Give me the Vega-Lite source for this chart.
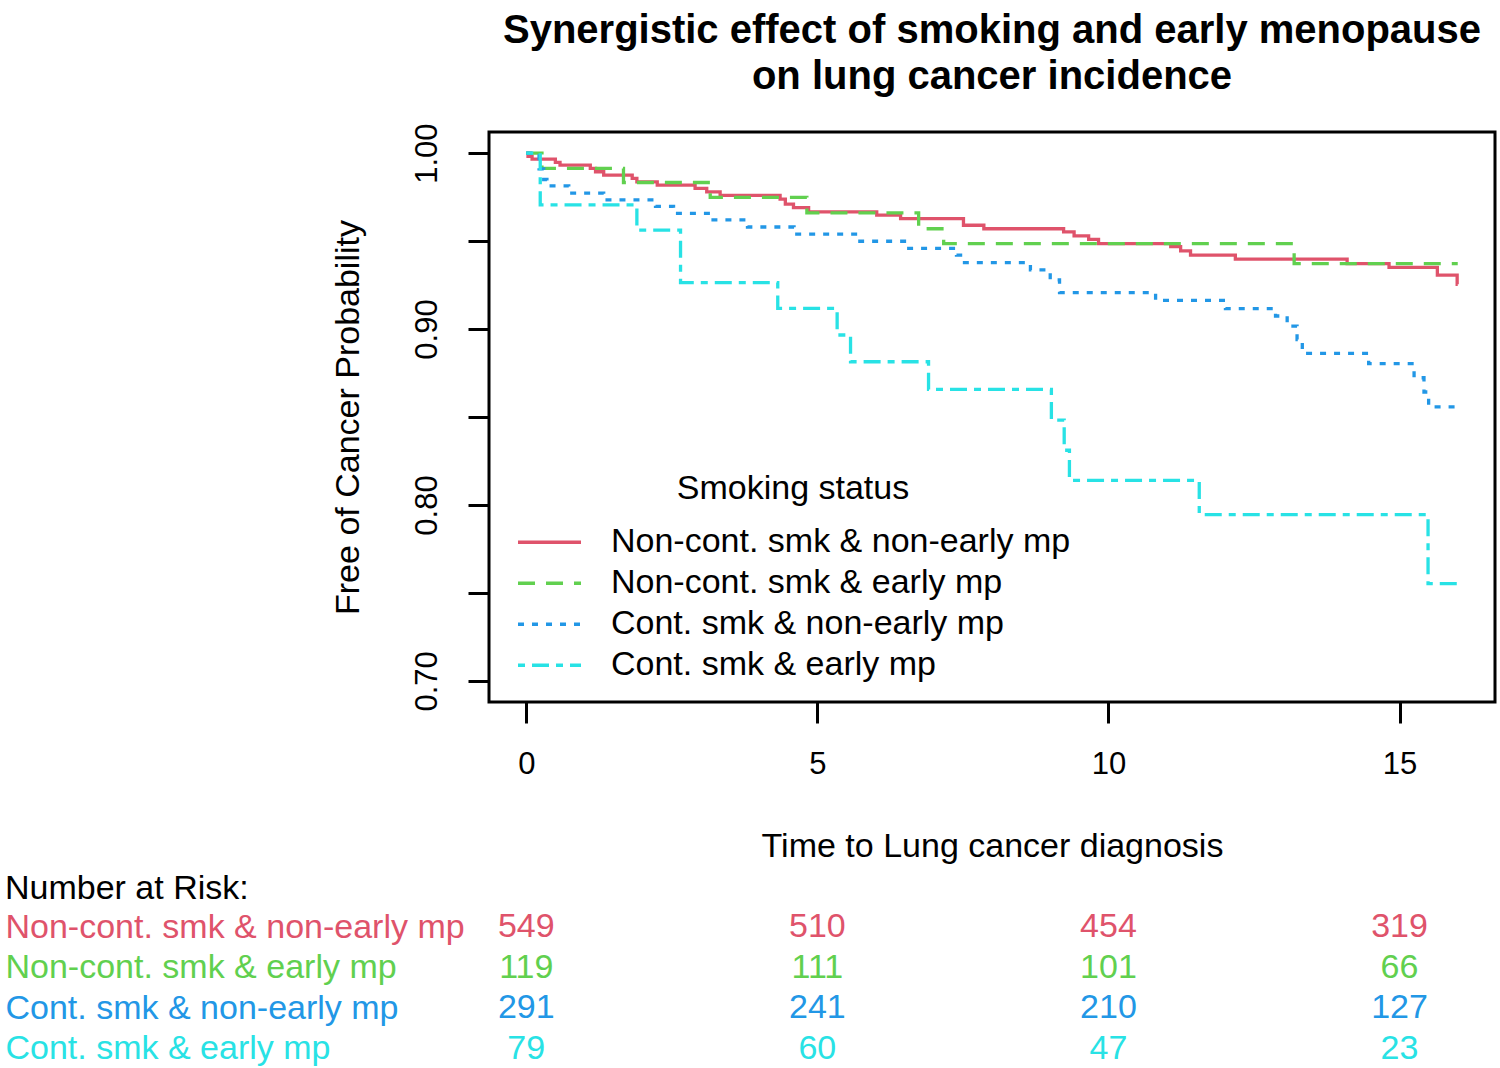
{
  "$schema": "https://vega.github.io/schema/vega-lite/v6.json",
  "autosize": {"type": "pad"},
  "padding": {"left": 5, "top": 9, "right": 0, "bottom": 0},
  "background": "white",
  "config": {
    "font": "Liberation Sans",
    "view": {"stroke": null},
    "axis": {
      "grid": false,
      "domain": false,
      "labelColor": "black",
      "titleColor": "black",
      "tickColor": "black",
      "labelFontSize": 31,
      "titleFontSize": 34,
      "titleFontWeight": "normal",
      "tickSize": 21,
      "tickWidth": 3
    },
    "title": {"color": "black"}
  },
  "datasets": {
    "km": [
      {"group": "Non-cont. smk & non-early mp", "time": 0, "surv": 1},
      {"group": "Non-cont. smk & non-early mp", "time": 0.03, "surv": 0.9982},
      {"group": "Non-cont. smk & non-early mp", "time": 0.1, "surv": 0.9966},
      {"group": "Non-cont. smk & non-early mp", "time": 0.5, "surv": 0.9947},
      {"group": "Non-cont. smk & non-early mp", "time": 0.58, "surv": 0.9932},
      {"group": "Non-cont. smk & non-early mp", "time": 1.1, "surv": 0.9913},
      {"group": "Non-cont. smk & non-early mp", "time": 1.19, "surv": 0.9894},
      {"group": "Non-cont. smk & non-early mp", "time": 1.33, "surv": 0.9875},
      {"group": "Non-cont. smk & non-early mp", "time": 1.82, "surv": 0.9856},
      {"group": "Non-cont. smk & non-early mp", "time": 1.9, "surv": 0.9837},
      {"group": "Non-cont. smk & non-early mp", "time": 2.25, "surv": 0.9818},
      {"group": "Non-cont. smk & non-early mp", "time": 2.9, "surv": 0.98},
      {"group": "Non-cont. smk & non-early mp", "time": 3.1, "surv": 0.978},
      {"group": "Non-cont. smk & non-early mp", "time": 3.33, "surv": 0.976},
      {"group": "Non-cont. smk & non-early mp", "time": 4.36, "surv": 0.9738},
      {"group": "Non-cont. smk & non-early mp", "time": 4.45, "surv": 0.971},
      {"group": "Non-cont. smk & non-early mp", "time": 4.59, "surv": 0.969},
      {"group": "Non-cont. smk & non-early mp", "time": 4.85, "surv": 0.9666},
      {"group": "Non-cont. smk & non-early mp", "time": 6.02, "surv": 0.9647},
      {"group": "Non-cont. smk & non-early mp", "time": 6.43, "surv": 0.9628},
      {"group": "Non-cont. smk & non-early mp", "time": 7.51, "surv": 0.959},
      {"group": "Non-cont. smk & non-early mp", "time": 7.86, "surv": 0.957},
      {"group": "Non-cont. smk & non-early mp", "time": 9.23, "surv": 0.9552},
      {"group": "Non-cont. smk & non-early mp", "time": 9.41, "surv": 0.9529},
      {"group": "Non-cont. smk & non-early mp", "time": 9.66, "surv": 0.951},
      {"group": "Non-cont. smk & non-early mp", "time": 9.83, "surv": 0.9486},
      {"group": "Non-cont. smk & non-early mp", "time": 11.07, "surv": 0.9469},
      {"group": "Non-cont. smk & non-early mp", "time": 11.24, "surv": 0.9444},
      {"group": "Non-cont. smk & non-early mp", "time": 11.41, "surv": 0.942},
      {"group": "Non-cont. smk & non-early mp", "time": 12.18, "surv": 0.9397},
      {"group": "Non-cont. smk & non-early mp", "time": 14.1, "surv": 0.9372},
      {"group": "Non-cont. smk & non-early mp", "time": 14.82, "surv": 0.935},
      {"group": "Non-cont. smk & non-early mp", "time": 15.65, "surv": 0.9307},
      {"group": "Non-cont. smk & non-early mp", "time": 15.99, "surv": 0.9254},
      {"group": "Non-cont. smk & non-early mp", "time": 16, "surv": 0.9254},
      {"group": "Non-cont. smk & early mp", "time": 0, "surv": 1},
      {"group": "Non-cont. smk & early mp", "time": 0.27, "surv": 0.9913},
      {"group": "Non-cont. smk & early mp", "time": 1.67, "surv": 0.9833},
      {"group": "Non-cont. smk & early mp", "time": 3.16, "surv": 0.9748},
      {"group": "Non-cont. smk & early mp", "time": 4.82, "surv": 0.966},
      {"group": "Non-cont. smk & early mp", "time": 6.74, "surv": 0.957},
      {"group": "Non-cont. smk & early mp", "time": 7.17, "surv": 0.9486},
      {"group": "Non-cont. smk & early mp", "time": 13.19, "surv": 0.9372},
      {"group": "Non-cont. smk & early mp", "time": 16, "surv": 0.9372},
      {"group": "Cont. smk & non-early mp", "time": 0, "surv": 1},
      {"group": "Cont. smk & non-early mp", "time": 0.22, "surv": 0.991},
      {"group": "Cont. smk & non-early mp", "time": 0.3, "surv": 0.985},
      {"group": "Cont. smk & non-early mp", "time": 0.355, "surv": 0.9814},
      {"group": "Cont. smk & non-early mp", "time": 0.73, "surv": 0.9772},
      {"group": "Cont. smk & non-early mp", "time": 1.33, "surv": 0.9734},
      {"group": "Cont. smk & non-early mp", "time": 2.22, "surv": 0.9697},
      {"group": "Cont. smk & non-early mp", "time": 2.53, "surv": 0.9657},
      {"group": "Cont. smk & non-early mp", "time": 3.16, "surv": 0.962},
      {"group": "Cont. smk & non-early mp", "time": 3.8, "surv": 0.958},
      {"group": "Cont. smk & non-early mp", "time": 4.6, "surv": 0.9539},
      {"group": "Cont. smk & non-early mp", "time": 5.73, "surv": 0.9499},
      {"group": "Cont. smk & non-early mp", "time": 6.54, "surv": 0.9459},
      {"group": "Cont. smk & non-early mp", "time": 7.39, "surv": 0.942},
      {"group": "Cont. smk & non-early mp", "time": 7.49, "surv": 0.9378},
      {"group": "Cont. smk & non-early mp", "time": 8.66, "surv": 0.9336},
      {"group": "Cont. smk & non-early mp", "time": 9.0, "surv": 0.928},
      {"group": "Cont. smk & non-early mp", "time": 9.16, "surv": 0.9207},
      {"group": "Cont. smk & non-early mp", "time": 10.81, "surv": 0.9163},
      {"group": "Cont. smk & non-early mp", "time": 12.01, "surv": 0.9116},
      {"group": "Cont. smk & non-early mp", "time": 12.87, "surv": 0.9074},
      {"group": "Cont. smk & non-early mp", "time": 13.07, "surv": 0.9017},
      {"group": "Cont. smk & non-early mp", "time": 13.24, "surv": 0.894},
      {"group": "Cont. smk & non-early mp", "time": 13.33, "surv": 0.8862},
      {"group": "Cont. smk & non-early mp", "time": 14.47, "surv": 0.8803},
      {"group": "Cont. smk & non-early mp", "time": 15.25, "surv": 0.8723},
      {"group": "Cont. smk & non-early mp", "time": 15.42, "surv": 0.8642},
      {"group": "Cont. smk & non-early mp", "time": 15.5, "surv": 0.8558},
      {"group": "Cont. smk & non-early mp", "time": 16, "surv": 0.8558},
      {"group": "Cont. smk & early mp", "time": 0, "surv": 1},
      {"group": "Cont. smk & early mp", "time": 0.24, "surv": 0.9706},
      {"group": "Cont. smk & early mp", "time": 1.9, "surv": 0.9562},
      {"group": "Cont. smk & early mp", "time": 2.65, "surv": 0.9264},
      {"group": "Cont. smk & early mp", "time": 4.32, "surv": 0.9118},
      {"group": "Cont. smk & early mp", "time": 5.34, "surv": 0.8966},
      {"group": "Cont. smk & early mp", "time": 5.57, "surv": 0.8814},
      {"group": "Cont. smk & early mp", "time": 6.91, "surv": 0.8657},
      {"group": "Cont. smk & early mp", "time": 9.02, "surv": 0.8482},
      {"group": "Cont. smk & early mp", "time": 9.24, "surv": 0.8311},
      {"group": "Cont. smk & early mp", "time": 9.33, "surv": 0.814},
      {"group": "Cont. smk & early mp", "time": 11.56, "surv": 0.7945},
      {"group": "Cont. smk & early mp", "time": 15.49, "surv": 0.7553},
      {"group": "Cont. smk & early mp", "time": 16, "surv": 0.7553}
    ],
    "risk": [
      {"group": "Non-cont. smk & non-early mp", "time": 0, "n": 549},
      {"group": "Non-cont. smk & non-early mp", "time": 5, "n": 510},
      {"group": "Non-cont. smk & non-early mp", "time": 10, "n": 454},
      {"group": "Non-cont. smk & non-early mp", "time": 15, "n": 319},
      {"group": "Non-cont. smk & early mp", "time": 0, "n": 119},
      {"group": "Non-cont. smk & early mp", "time": 5, "n": 111},
      {"group": "Non-cont. smk & early mp", "time": 10, "n": 101},
      {"group": "Non-cont. smk & early mp", "time": 15, "n": 66},
      {"group": "Cont. smk & non-early mp", "time": 0, "n": 291},
      {"group": "Cont. smk & non-early mp", "time": 5, "n": 241},
      {"group": "Cont. smk & non-early mp", "time": 10, "n": 210},
      {"group": "Cont. smk & non-early mp", "time": 15, "n": 127},
      {"group": "Cont. smk & early mp", "time": 0, "n": 79},
      {"group": "Cont. smk & early mp", "time": 5, "n": 60},
      {"group": "Cont. smk & early mp", "time": 10, "n": 47},
      {"group": "Cont. smk & early mp", "time": 15, "n": 23}
    ]
  },
  "resolve": {"scale": {"color": "independent", "strokeDash": "independent"}},
  "spacing": 7,
  "vconcat": [
    {
      "width": 1006,
      "height": 570,
      "title": {
        "text": ["Synergistic effect of smoking and early menopause", "on lung cancer incidence"],
        "fontSize": 40,
        "fontWeight": "bold",
        "lineHeight": 46,
        "anchor": "middle",
        "offset": 26
      },
      "view": {"stroke": "black", "strokeWidth": 3},
      "data": {"name": "km"},
      "mark": {"type": "line", "interpolate": "step-after", "strokeWidth": 3.3},
      "encoding": {
        "x": {
          "field": "time",
          "type": "quantitative",
          "scale": {"domain": [-0.64, 16.64], "nice": false, "zero": false},
          "axis": {
            "title": "Time to Lung cancer diagnosis",
            "values": [0, 5, 10, 15],
            "labelPadding": 26,
            "titlePadding": 50
          }
        },
        "y": {
          "field": "surv",
          "type": "quantitative",
          "scale": {"domain": [0.688, 1.012], "nice": false, "zero": false},
          "axis": {
            "title": "Free of Cancer Probability",
            "values": [0.7, 0.75, 0.8, 0.85, 0.9, 0.95, 1.0],
            "labelExpr": "round(datum.value * 100) % 10 == 0 ? format(datum.value, '.2f') : ''",
            "labelAngle": 270,
            "labelAlign": "center",
            "labelBaseline": "bottom",
            "labelPadding": 25,
            "titlePadding": 46
          }
        },
        "color": {
          "field": "group",
          "type": "nominal",
          "scale": {
            "domain": ["Non-cont. smk & non-early mp", "Non-cont. smk & early mp", "Cont. smk & non-early mp", "Cont. smk & early mp"],
            "range": ["#DF536B", "#61D04F", "#2297E6", "#28E2E5"]
          },
          "legend": {
            "title": "Smoking status",
            "orient": "none",
            "legendX": 27,
            "legendY": 340,
            "padding": 0,
            "titleFontSize": 34,
            "titleFontWeight": "normal",
            "titleColor": "black",
            "titleAnchor": "middle",
            "titleLimit": 1000,
            "titlePadding": 16,
            "labelFontSize": 34,
            "labelColor": "black",
            "labelLimit": 0,
            "labelOffset": 28,
            "symbolType": "stroke",
            "symbolSize": 3969,
            "symbolStrokeWidth": 3.3,
            "clipHeight": 40.5,
            "rowPadding": 0
          }
        },
        "strokeDash": {
          "field": "group",
          "type": "nominal",
          "scale": {
            "domain": ["Non-cont. smk & non-early mp", "Non-cont. smk & early mp", "Cont. smk & non-early mp", "Cont. smk & early mp"],
            "range": [[1, 0], [17, 11], [6, 8], [7, 7, 17, 7]]
          },
          "legend": {
            "title": "Smoking status",
            "orient": "none",
            "legendX": 27,
            "legendY": 340,
            "padding": 0,
            "titleFontSize": 34,
            "titleFontWeight": "normal",
            "titleColor": "black",
            "titleAnchor": "middle",
            "titleLimit": 1000,
            "titlePadding": 16,
            "labelFontSize": 34,
            "labelColor": "black",
            "labelLimit": 0,
            "labelOffset": 28,
            "symbolType": "stroke",
            "symbolSize": 3969,
            "symbolStrokeWidth": 3.3,
            "clipHeight": 40.5,
            "rowPadding": 0
          }
        },
        "order": {"field": "time", "type": "quantitative"}
      }
    },
    {
      "width": 1006,
      "height": 162,
      "title": {
        "text": "Number at Risk:",
        "anchor": "start",
        "frame": "bounds",
        "fontSize": 34,
        "fontWeight": "normal",
        "offset": 1
      },
      "data": {"name": "risk"},
      "mark": {"type": "text", "fontSize": 34},
      "encoding": {
        "x": {
          "field": "time",
          "type": "quantitative",
          "scale": {"domain": [-0.64, 16.64], "nice": false, "zero": false},
          "axis": null
        },
        "y": {
          "field": "group",
          "type": "nominal",
          "scale": {
            "domain": ["Non-cont. smk & non-early mp", "Non-cont. smk & early mp", "Cont. smk & non-early mp", "Cont. smk & early mp"],
            "paddingInner": 0,
            "paddingOuter": 0
          },
          "axis": {
            "title": null,
            "ticks": false,
            "labelAlign": "left",
            "labelPadding": 484,
            "labelFontSize": 34,
            "labelLimit": 0,
            "labelColor": {"expr": "datum.value == 'Non-cont. smk & non-early mp' ? '#DF536B' : datum.value == 'Non-cont. smk & early mp' ? '#61D04F' : datum.value == 'Cont. smk & non-early mp' ? '#2297E6' : '#28E2E5'"}
          }
        },
        "text": {"field": "n", "type": "quantitative"},
        "color": {
          "field": "group",
          "type": "nominal",
          "scale": {
            "domain": ["Non-cont. smk & non-early mp", "Non-cont. smk & early mp", "Cont. smk & non-early mp", "Cont. smk & early mp"],
            "range": ["#DF536B", "#61D04F", "#2297E6", "#28E2E5"]
          },
          "legend": null
        }
      }
    }
  ]
}
